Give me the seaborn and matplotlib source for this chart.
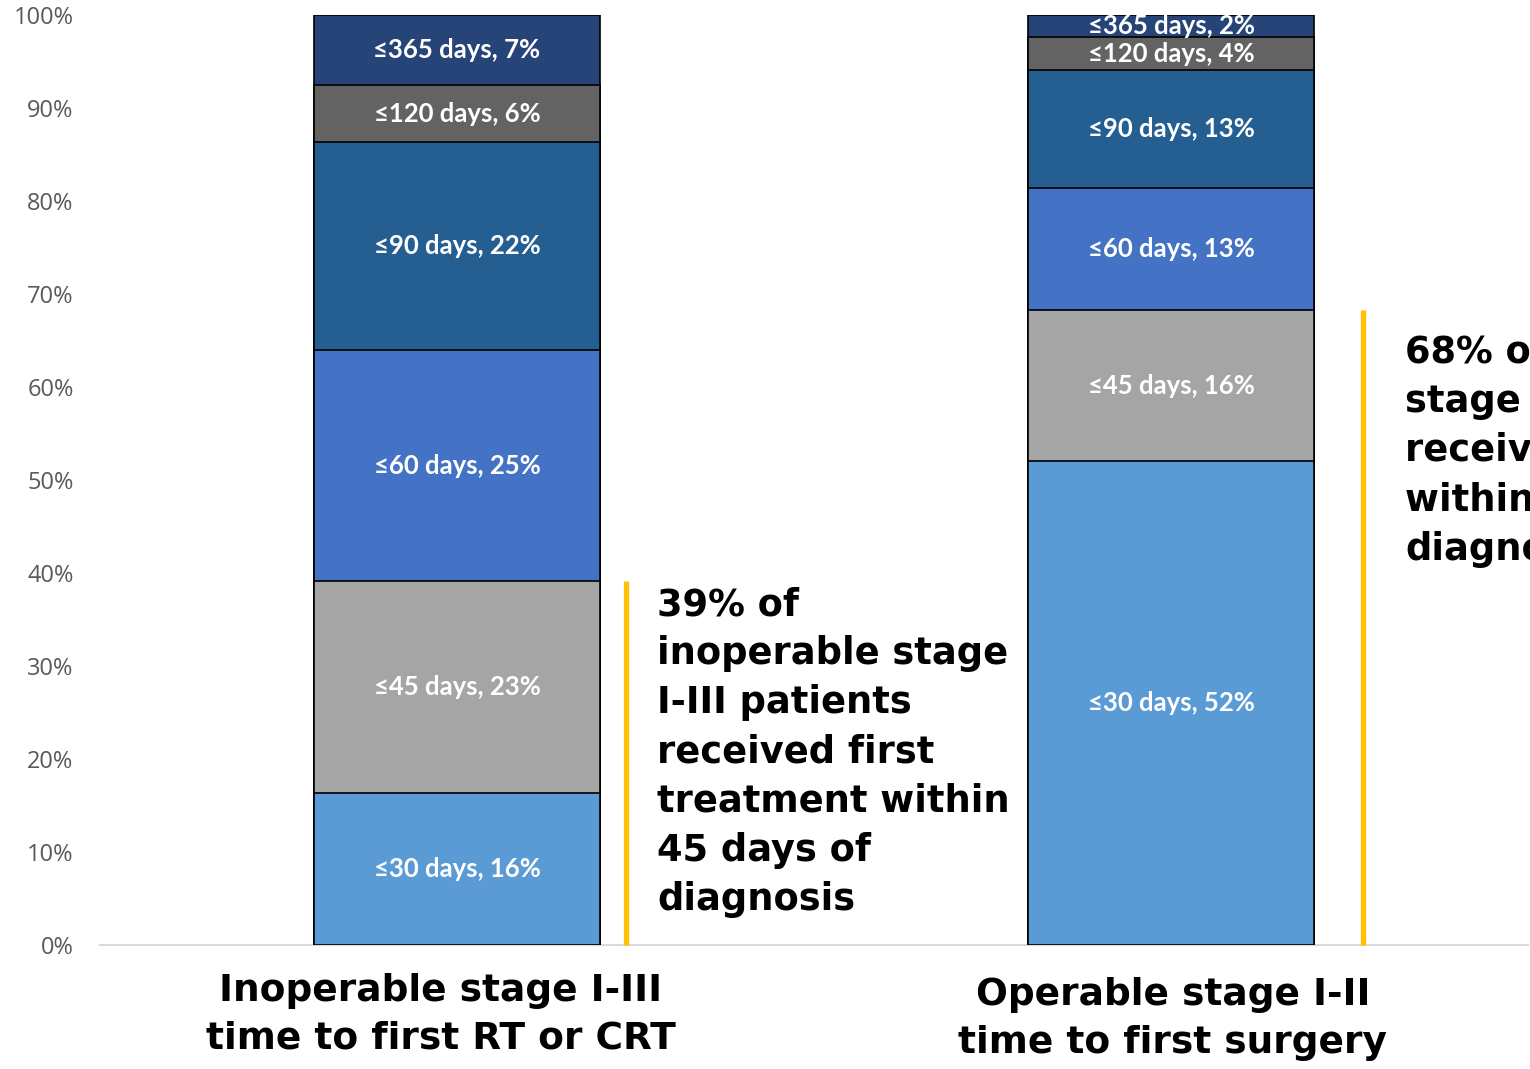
import matplotlib
matplotlib.use("Agg")
import matplotlib.pyplot as plt
import matplotlib.transforms as mtransforms
import seaborn as sns
import numpy as np
import pandas as pd

# ---------------- data ----------------
groups = ["Inoperable stage I-III\ntime to first RT or CRT",
          "Operable stage I-II\ntime to first surgery"]
bins = ["≤30 days", "≤45 days", "≤60 days", "≤90 days", "≤120 days", "≤365 days"]
inoperable = [16.3, 22.8, 24.9, 22.3, 6.2, 7.5]
operable = [52.0, 16.3, 13.1, 12.7, 3.5, 2.4]
inoperable_labels = ["16%", "23%", "25%", "22%", "6%", "7%"]
operable_labels = ["52%", "16%", "13%", "13%", "4%", "2%"]
bin_colors = ["#5B9BD5", "#A5A5A5", "#4472C4", "#255E91", "#636363", "#264478"]
callouts = ["39% of\ninoperable stage\nI-III patients\nreceived first\ntreatment within\n45 days of\ndiagnosis",
            "68% of operable\nstage I-II patients\nreceived surgery\nwithin 45 days of\ndiagnosis"]
yticks = [0, 10, 20, 30, 40, 50, 60, 70, 80, 90, 100]

# ---------------- build table ----------------
vals = np.array([inoperable, operable])
cum = np.cumsum(vals, axis=1)
rows = []
for gi, g in enumerate(groups):
    for bi, b in enumerate(bins):
        rows.append({"group": g, "bin": b, "value": vals[gi, bi], "cum": cum[gi, bi]})
df = pd.DataFrame(rows)

sns.set_theme(style="white")
plt.rcParams["font.family"] = ["DejaVu Sans"]

fig = plt.figure(figsize=(15.30, 10.69), dpi=100)
ax = fig.add_axes([100 / 1530, 1 - 945 / 1069, 1428 / 1530, 930 / 1069])

# draw stacked bars: tallest cumulative first
for bi in range(len(bins) - 1, -1, -1):
    sub = df[df["bin"] == bins[bi]]
    sns.barplot(data=sub, x="group", y="cum", order=groups, color=bin_colors[bi],
                width=0.4, edgecolor="black", linewidth=1.2, ax=ax,
                saturation=1, errorbar=None)

# segment labels
labels_all = [inoperable_labels, operable_labels]
for gi in range(len(groups)):
    for bi in range(len(bins)):
        mid = cum[gi, bi] - vals[gi, bi] / 2
        ax.text(gi, mid, f"{bins[bi]}, {labels_all[gi][bi]}", ha="center", va="center",
                color="white", fontsize=18.5, fontweight="bold",
                family=["Lato", "DejaVu Sans"])

# callouts with yellow lines
line_x = [0.237, 1.269]
text_x = [0.280, 1.328]
text_dy = [-0.5, -2.6]
for gi in range(len(groups)):
    top = cum[gi, 1]
    ax.plot([line_x[gi], line_x[gi]], [0, top], color="#FFC000", linewidth=3.8,
            solid_capstyle="butt", clip_on=False)
    ax.text(text_x[gi], top + text_dy[gi], callouts[gi], ha="left", va="top",
            fontsize=26.5, fontweight="bold", color="black", linespacing=1.42,
            clip_on=False)

ax.set_xlim(-0.5, 1.5)
ax.set_ylim(0, 100)
ax.set_yticks(yticks)
ax.set_yticklabels([f"{t}%" for t in yticks], color="#595959", fontsize=17,
                   family=["Open Sans", "DejaVu Sans"])
ax.set_xticks(range(len(groups)))
ax.set_xticklabels(groups, fontsize=27, fontweight="bold", color="black", linespacing=1.42)
ax.tick_params(axis="y", length=0, pad=19)
ax.tick_params(axis="x", length=0, pad=20)
xt = ax.get_xticklabels()
xt[0].set_transform(xt[0].get_transform() +
                    mtransforms.ScaledTranslation(-16 / 100, 0, fig.dpi_scale_trans))
xt[1].set_transform(xt[1].get_transform() +
                    mtransforms.ScaledTranslation(2 / 100, -4 / 100, fig.dpi_scale_trans))
ax.set_xlabel("")
ax.set_ylabel("")
for s in ["left", "top", "right"]:
    ax.spines[s].set_visible(False)
ax.spines["bottom"].set_color("#D9D9D9")
ax.spines["bottom"].set_linewidth(1.5)
ax.spines["bottom"].set_zorder(0)
ax.grid(False)

fig.savefig("out.png", dpi=100)
